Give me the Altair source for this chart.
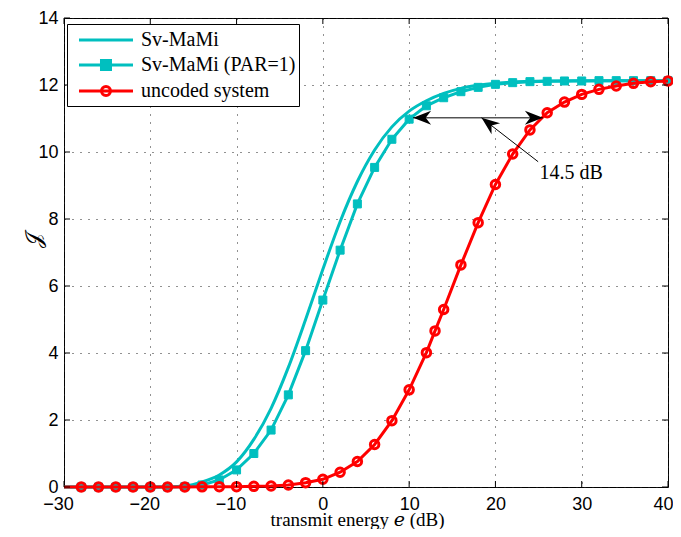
import altair as alt
import pandas as pd

CYAN = "#00BFBF"
RED = "#FF0000"

# ---- data ----
x_ticks = [-30, -20, -10, 0, 10, 20, 30, 40]
y_ticks = [0, 2, 4, 6, 8, 10, 12, 14]

series_names = ["Sv-MaMi", "Sv-MaMi (PAR=1)", "uncoded system"]

e_grid = [-30, -28, -26, -24, -22, -20, -18, -16, -14, -12, -10, -8, -6, -4, -2, 0,
          2, 4, 6, 8, 10, 12, 14, 16, 18, 20, 22, 24, 26, 28, 30, 32, 34, 36, 38, 40]

j_svmami = [0, 0, 0, 0, 0, 0, 0.005, 0.03, 0.15, 0.36, 0.75, 1.42, 2.35, 3.57, 5.0, 6.5,
            7.92, 9.12, 10.06, 10.75, 11.22, 11.53, 11.75, 11.9, 11.99, 12.05, 12.09, 12.11,
            12.12, 12.12, 12.13, 12.13, 12.13, 12.13, 12.13, 12.13]

j_par1 = [0, 0, 0, 0, 0, 0, 0, 0.01, 0.06, 0.21, 0.51, 1.0, 1.7, 2.75, 4.07, 5.58,
          7.07, 8.45, 9.54, 10.38, 10.98, 11.38, 11.62, 11.8, 11.93, 12.02, 12.07, 12.1,
          12.11, 12.12, 12.12, 12.13, 12.13, 12.13, 12.13, 12.13]

e_uncoded = [-30, -28, -26, -24, -22, -20, -18, -16, -14, -12, -10, -8, -6, -4, -2, 0,
             2, 4, 6, 8, 10, 12, 13, 14, 16, 18, 20, 22, 24, 26, 28, 30, 32, 34, 36, 38, 40]
j_uncoded = [0, 0, 0, 0, 0, 0, 0, 0, 0.005, 0.01, 0.01, 0.02, 0.03, 0.06, 0.13, 0.23,
             0.44, 0.76, 1.27, 1.98, 2.9, 4.01, 4.66, 5.3, 6.63, 7.89, 9.03, 9.94, 10.66,
             11.17, 11.49, 11.72, 11.87, 11.97, 12.05, 12.1, 12.12]

# annotation (double arrow + pointer + label)
arrow_e = [10.46, 25.5]
arrow_j = [11.02, 11.02]
pointer_e = [18.39, 24.95]
pointer_j = [11.02, 9.71]
head_e = [10.46, 25.5, 18.39]
head_j = [11.02, 11.02, 11.02]
head_angle = [180, 0, 217.5]
label_e = [25.1]
label_j = [9.19]
label_text = ["14.5 dB"]

# ---- frames ----
df_sv = pd.DataFrame({"e": e_grid, "J": j_svmami})
df_par = pd.DataFrame({"e": e_grid, "J": j_par1})
df_par_pts = df_par[df_par["e"] > -30]
df_unc = pd.DataFrame({"e": e_uncoded, "J": j_uncoded})
df_unc_pts = df_unc[df_unc["e"] > -30]
df_shaft = pd.DataFrame({"e": [arrow_e[0]], "e2": [arrow_e[1]], "J": [arrow_j[0]]})
df_ptr = pd.DataFrame({"e": [pointer_e[0]], "e2": [pointer_e[1]],
                       "J": [pointer_j[0]], "J2": [pointer_j[1]]})
df_heads = pd.DataFrame({"e": head_e, "J": head_j, "ang": head_angle})
df_label = pd.DataFrame({"e": label_e, "J": label_j, "t": label_text})
df_xt = pd.DataFrame({"e": x_ticks})
df_yt = pd.DataFrame({"J": y_ticks})

W, H = 604, 469

x_scale = alt.Scale(domain=[-30, 40], nice=False, zero=False)
y_scale = alt.Scale(domain=[0, 14], nice=False, zero=False)

x_axis = alt.Axis(values=x_ticks, format="d", title="transmit energy 𝑒 (dB)",
                  grid=True, gridDash=[1, 7], gridColor="#222", gridOpacity=1,
                  domain=False, ticks=False, labelFont="Liberation Sans",
                  labelFontSize=18, labelColor="#000", labelPadding=8,
                  labelOffset={"condition": [{"test": "datum.value < 0", "value": -6},
                                             {"test": "datum.value == 40", "value": -5}],
                               "value": 0},
                  labelFlush=False, titleFont="Liberation Serif, DejaVu Serif", titleFontSize=19,
                  titleFontWeight="normal", titleColor="#000", titleX=293,
                  titleY=38, titleBaseline="alphabetic", titleAlign="center")
y_axis = alt.Axis(values=y_ticks, format="d", title="𝒥",
                  grid=True, gridDash=[1, 7], gridColor="#222", gridOpacity=1,
                  domain=False, ticks=False, labelFont="Liberation Sans",
                  labelFontSize=18, labelColor="#000", labelPadding=6,
                  titleFont="DejaVu Serif", titleFontSize=22, titleFontWeight="normal",
                  titleColor="#000", titleX=-31, titleY=222, titleAngle=270,
                  titleBaseline="middle", titleAlign="center")

X = alt.X("e:Q", scale=x_scale, axis=x_axis)
Y = alt.Y("J:Q", scale=y_scale, axis=y_axis)

line_sv = alt.Chart(df_sv).mark_line(color=CYAN, strokeWidth=3, interpolate="monotone").encode(x=X, y=Y)
line_par = alt.Chart(df_par).mark_line(color=CYAN, strokeWidth=3).encode(x=X, y=Y)
pts_par = alt.Chart(df_par_pts).mark_point(shape="square", filled=True, size=64, color=CYAN,
                                           opacity=1, stroke=CYAN, strokeWidth=1).encode(x=X, y=Y)
line_unc = alt.Chart(df_unc).mark_line(color=RED, strokeWidth=3).encode(x=X, y=Y)
pts_unc = alt.Chart(df_unc_pts).mark_point(shape="circle", filled=False, size=72, color=RED,
                                           opacity=1, strokeWidth=3).encode(x=X, y=Y)

shaft = alt.Chart(df_shaft).mark_rule(color="#000", strokeWidth=1).encode(x=X, x2="e2:Q", y=Y)
ptr = alt.Chart(df_ptr).mark_rule(color="#000", strokeWidth=1).encode(x=X, x2="e2:Q", y=Y, y2="J2:Q")
HEAD = "M0,0L-2,-0.78L-1.4,0L-2,0.78Z"
heads = alt.Chart(df_heads).mark_point(shape=HEAD, filled=True, size=324, color="#000",
                                       opacity=1, strokeWidth=0).encode(
    x=X, y=Y, angle=alt.Angle("ang:Q", scale=None))
label = alt.Chart(df_label).mark_text(align="left", baseline="alphabetic", font="Liberation Serif",
                                      fontSize=20, color="#000").encode(x=X, y=Y, text="t:N")

# inward ticks on all four sides
tick_b = alt.Chart(df_xt).mark_rule(color="#000", strokeWidth=1).encode(x=X, y=alt.value(H), y2=alt.value(H - 6))
tick_t = alt.Chart(df_xt).mark_rule(color="#000", strokeWidth=1).encode(x=X, y=alt.value(0), y2=alt.value(6))
tick_l = alt.Chart(df_yt).mark_rule(color="#000", strokeWidth=1).encode(y=Y, x=alt.value(0), x2=alt.value(6))
tick_r = alt.Chart(df_yt).mark_rule(color="#000", strokeWidth=1).encode(y=Y, x=alt.value(W), x2=alt.value(W - 6))

# legend (line + marker samples as custom symbols)
LEG_SOLID = "M-0.364,0L4.545,0"
LEG_SQ = "M-0.364,0L4.545,0M1.68,-0.41L2.5,-0.41L2.5,0.41L1.68,0.41Z"
LEG_CIRC = "M-0.364,0L4.545,0M2.5,0A0.41,0.41 0 1,1 1.68,0A0.41,0.41 0 1,1 2.5,0"
legend_layer = alt.Chart(pd.DataFrame({"s": pd.Series([], dtype=str)})).mark_point(
    filled=True, opacity=1, strokeWidth=3, size=484).encode(
    shape=alt.Shape("s:N", scale=alt.Scale(domain=series_names, range=[LEG_SOLID, LEG_SQ, LEG_CIRC]),
                    legend=alt.Legend(title=None)),
    fill=alt.Fill("s:N", scale=alt.Scale(domain=series_names, range=[CYAN, CYAN, "transparent"]),
                  legend=alt.Legend(title=None)),
    stroke=alt.Stroke("s:N", scale=alt.Scale(domain=series_names, range=[CYAN, CYAN, RED]),
                      legend=alt.Legend(title=None)),
)

chart = alt.layer(
    line_sv, line_par, pts_par, line_unc, pts_unc,
    shaft, ptr, heads, label,
    tick_b, tick_t, tick_l, tick_r,
    legend_layer,
).properties(
    width=W, height=H,
    padding={"left": 56, "top": 10, "right": 5, "bottom": 42},
    autosize=alt.AutoSizeParams(type="none"),
    background="#ffffff",
).configure_view(
    stroke="#000", strokeWidth=1,
).configure_legend(
    orient="none", legendX=3, legendY=6, padding=3.5,
    strokeColor="#000", fillColor="#ffffff", cornerRadius=0,
    labelFont="Liberation Serif", labelFontSize=20, labelColor="#000",
    labelOffset=45.5, rowPadding=2, symbolSize=484, symbolStrokeWidth=3,
    labelLimit=0,
)

chart.save("out.html", embed_options={"renderer": "svg", "actions": False})
